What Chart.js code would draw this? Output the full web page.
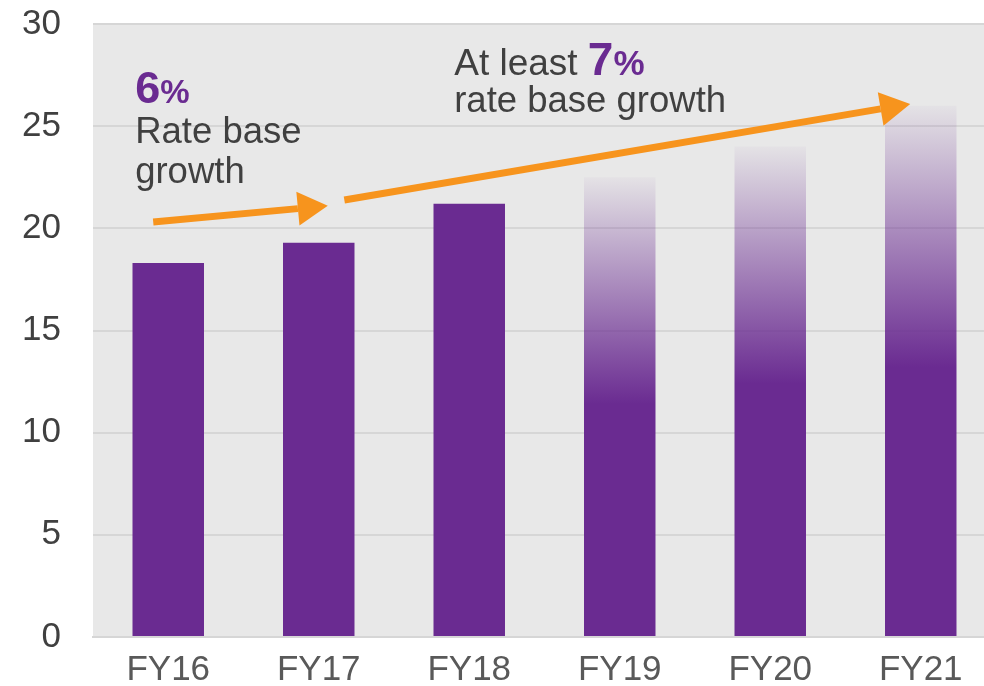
<!DOCTYPE html>
<html lang="en">
<head>
<meta charset="UTF-8">
<title>Rate base growth</title>
<style>
  html, body { margin: 0; padding: 0; background: #fff; overflow: hidden; }
  #wrap { width: 996px; height: 686px; }
</style>
</head>
<body>
<div id="wrap">
  <canvas id="myChart"></canvas>
</div>

<script src="https://cdn.jsdelivr.net/npm/chart.js"></script>
<script>
// data
const anos = ['FY16', 'FY17', 'FY18', 'FY19', 'FY20', 'FY21'];
const rateBase = [18.3, 19.3, 21.2, 22.5, 24.0, 26.0];
// below this value the projected bars are solid, above it they fade out
const solidAte = [null, null, null, 11.4, 12.4, 13.2];
const yTicks = [0, 5, 10, 15, 20, 25, 30];

const roxo = 'rgb(106,43,145)';
const laranja = '#f7941d';
const texto = '#404040';
const fonte = '"Liberation Sans", Arial, sans-serif';

// annotation anchors (category index, value)
const setas = [
  { de: [-0.10, 20.31], ate: [1.06, 21.10] },
  { de: [1.17, 21.39], ate: [4.93, 26.09] }
];
const notas = [
  { x: -0.22, y: 26.14, partes: [['6', true, 45], ['%', true, 33]] },
  { x: -0.22, y: 24.18, partes: [['Rate base', false, 36.5]] },
  { x: -0.22, y: 22.22, partes: [['growth', false, 36.5]] },
  { x: 1.90, y: 27.51, partes: [['At least ', false, 37], ['7', true, 46], ['%', true, 35]] },
  { x: 1.90, y: 25.70, partes: [['rate base growth', false, 36.5]] }
];

const fundo = {
  id: 'fundo',
  beforeDraw(chart) {
    const a = chart.chartArea;
    const c = chart.ctx;
    c.save();
    c.fillStyle = '#e8e8e8';
    c.fillRect(a.left, a.top, a.right - a.left, a.bottom - a.top);
    c.restore();
  }
};

const anotacoes = {
  id: 'anotacoes',
  afterDatasetsDraw(chart) {
    const c = chart.ctx;
    const sx = chart.scales.x, sy = chart.scales.y;
    const px = i => sx.getPixelForValue(0) + i * (sx.getPixelForValue(1) - sx.getPixelForValue(0));
    c.save();
    setas.forEach(s => {
      const x1 = px(s.de[0]), y1 = sy.getPixelForValue(s.de[1]);
      const x2 = px(s.ate[0]), y2 = sy.getPixelForValue(s.ate[1]);
      const ang = Math.atan2(y2 - y1, x2 - x1);
      const cab = 30, meia = 17;
      const bx = x2 - cab * Math.cos(ang), by = y2 - cab * Math.sin(ang);
      c.strokeStyle = laranja;
      c.fillStyle = laranja;
      c.lineWidth = 7;
      c.beginPath();
      c.moveTo(x1, y1);
      c.lineTo(bx, by);
      c.stroke();
      c.beginPath();
      c.moveTo(x2, y2);
      c.lineTo(bx + meia * Math.sin(ang), by - meia * Math.cos(ang));
      c.lineTo(bx - meia * Math.sin(ang), by + meia * Math.cos(ang));
      c.closePath();
      c.fill();
    });
    c.textBaseline = 'alphabetic';
    c.textAlign = 'left';
    notas.forEach(n => {
      let x = px(n.x);
      const y = sy.getPixelForValue(n.y);
      n.partes.forEach(([t, negrito, tam]) => {
        c.font = (negrito ? 'bold ' : '') + tam + 'px ' + fonte;
        c.fillStyle = negrito ? roxo : texto;
        c.fillText(t, x, y);
        x += c.measureText(t).width;
      });
    });
    c.restore();
  }
};

function corBarra(context) {
  const i = context.dataIndex;
  const chart = context.chart;
  if (solidAte[i] == null || !chart.chartArea || !chart.scales.y) return roxo;
  const sy = chart.scales.y;
  const topo = sy.getPixelForValue(rateBase[i]);
  const base = sy.getPixelForValue(solidAte[i]);
  const g = chart.ctx.createLinearGradient(0, topo, 0, base);
  g.addColorStop(0, 'rgba(106,43,145,0.03)');
  g.addColorStop(1, 'rgba(106,43,145,1)');
  return g;
}

const ctx = document.getElementById('myChart');
new Chart(ctx, {
  type: 'bar',
  data: {
    labels: anos,
    datasets: [{
      label: 'Rate base',
      data: rateBase,
      backgroundColor: corBarra,
      borderWidth: 0,
      categoryPercentage: 1,
      barPercentage: 0.475
    }]
  },
  options: {
    responsive: true,
    maintainAspectRatio: false,
    animation: false,
    layout: { padding: { top: 24, left: 0, right: 0, bottom: 0 } },
    plugins: {
      legend: { display: false },
      tooltip: { enabled: false }
    },
    scales: {
      x: {
        grid: { display: false, drawTicks: false },
        border: { display: true, color: '#d6d6d6', width: 2 },
        ticks: { color: '#595959', padding: 12, font: { family: fonte, size: 35 } },
        afterFit(scale) {
          scale.height = 49;
          scale.paddingLeft = 0;
          scale.paddingRight = 0;
        }
      },
      y: {
        min: 0,
        max: 30,
        afterBuildTicks(scale) { scale.ticks = yTicks.map(v => ({ value: v })); },
        grid: { color: '#d6d6d6', lineWidth: 2, drawTicks: false },
        border: { display: false },
        ticks: { color: texto, padding: 32, font: { family: fonte, size: 35 } },
        afterFit(scale) {
          scale.width = 93;
          scale.paddingTop = 0;
          scale.paddingBottom = 0;
        }
      }
    }
  },
  plugins: [fundo, anotacoes]
});
</script>
</body>
</html>
